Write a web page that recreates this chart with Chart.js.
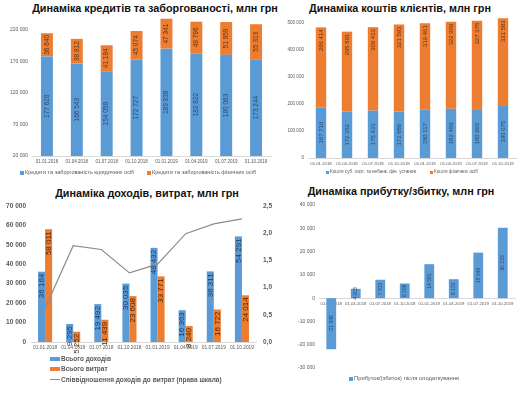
<!DOCTYPE html>
<html lang="uk">
<head>
<meta charset="utf-8">
<script src="https://cdn.jsdelivr.net/npm/chart.js@4.4.1/dist/chart.umd.min.js"></script>
<style>
    body { margin: 0; width: 526px; height: 395px; background: #fff; position: relative; overflow: hidden; font-family: "Liberation Sans", Arial, sans-serif; }
    canvas { position: absolute; }
    .title { position: absolute; font-weight: bold; font-size: 10.8px; line-height: 12px; color: #111; white-space: nowrap; transform: translateX(-50%); }
    .lg { position: absolute; white-space: nowrap; color: #595959; line-height: 1; }
    .sw { position: absolute; }
</style>
</head>
<body>
<div class="title" style="left:155px; top:2px;">Динаміка кредитів та заборгованості, млн грн</div>
<div class="title" style="left:400px; top:2px;">Динаміка коштів клієнтів, млн грн</div>
<div class="title" style="left:147px; top:187px;">Динаміка доходів, витрат, млн грн</div>
<div class="title" style="left:401px; top:185px;">Динаміка прибутку/збитку, млн грн</div>

<canvas id="loansChart" width="276" height="170" style="left:0; top:0;"></canvas>
<canvas id="depositsChart" width="256" height="170" style="left:270px; top:0;"></canvas>
<canvas id="incomeChart" width="280" height="160" style="left:0; top:195px;"></canvas>
<canvas id="profitChart" width="246" height="180" style="left:280px; top:195px;"></canvas>

<!-- legends -->
<div class="sw" style="left:20px; top:171px; width:4px; height:4px; background:#5b9bd5;"></div>
<div class="lg" style="left:25px; top:170px; font-size:5.5px;">Кредити та заборгованість  юридичних осіб</div>
<div class="sw" style="left:147px; top:171px; width:4px; height:4px; background:#ed7d31;"></div>
<div class="lg" style="left:152px; top:170px; font-size:5.5px;">Кредити та заборгованість  фізичних осіб</div>

<div class="sw" style="left:326px; top:171px; width:3px; height:3px; background:#5b9bd5;"></div>
<div class="lg" style="left:330px; top:170px; font-size:4.6px;">Кошти суб. госп. та небанк. фін. установ</div>
<div class="sw" style="left:430px; top:171px; width:3px; height:3px; background:#ed7d31;"></div>
<div class="lg" style="left:434px; top:170px; font-size:4.6px;">Кошти фізичних осіб</div>

<div class="sw" style="left:50px; top:357px; width:10px; height:4px; background:#5b9bd5;"></div>
<div class="lg" style="left:61px; top:355.5px; font-size:6.5px; font-weight:bold;">Всього доходів</div>
<div class="sw" style="left:50px; top:367px; width:10px; height:4px; background:#ed7d31;"></div>
<div class="lg" style="left:61px; top:365.5px; font-size:6.5px; font-weight:bold;">Всього витрат</div>
<div class="sw" style="left:50px; top:379px; width:10px; height:1px; background:#8c8c8c;"></div>
<div class="lg" style="left:61px; top:376.5px; font-size:6.5px; font-weight:bold;">Співвідношення  доходів до витрат (права шкала)</div>

<div class="sw" style="left:349px; top:377px; width:4px; height:4px; background:#5b9bd5;"></div>
<div class="lg" style="left:354px; top:376px; font-size:5.8px;">Прибуток/(збиток)  після оподаткування</div>

<script>
// дати звітності
const dates = ['01.01.2018', '01.04.2018', '01.07.2018', '01.10.2018', '01.01.2019', '01.04.2019', '01.07.2019', '01.10.2019'];

// кредити, млн грн
const loansLegal = [177628, 166543, 154058, 172727, 189938, 182822, 180063, 173244];
const loansPersons = [36640, 38812, 41184, 45074, 47341, 49796, 51959, 55313];

// кошти клієнтів, млн грн
const depositsLegal = [187719, 172352, 175433, 172888, 180117, 182489, 180965, 196075];
const depositsPersons = [296414, 295891, 309413, 321593, 319461, 322909, 327378, 321583];

// доходи / витрати
const incomeTotal = [36164, 9295, 19492, 30035, 48432, 16363, 36311, 54291];
const expenseTotal = [58011, 5252, 11439, 23608, 33771, 8240, 16722, 24014];
const incomeRatio = [0.62, 1.77, 1.70, 1.27, 1.43, 1.99, 2.17, 2.26];

// прибуток
const profit = [-21948, 4003, 7913, 6298, 14581, 8131, 19549, 30233];

// поділки осей
const loansTicks = [20000, 70000, 120000, 170000, 220000];
const depositsTicks = [0, 100000, 200000, 300000, 400000, 500000];
const incomeTicks = [0, 10000, 20000, 30000, 40000, 50000, 60000, 70000];
const ratioTicks = [0, 0.5, 1, 1.5, 2, 2.5];
const profitTicks = [-30000, -20000, -10000, 0, 10000, 20000, 30000, 40000];

const BLUE = '#5b9bd5';
const ORANGE = '#ed7d31';
const AXIS_TEXT = '#595959';
const FONT = '"Liberation Sans", Arial, sans-serif';

function fmt(v) {
    const s = Math.abs(v).toString().replace(/\B(?=(\d{3})+(?!\d))/g, ' ');
    return (v < 0 ? '-' : '') + s;
}

// підписи значень, повернуті на 90°
const barLabels = {
    id: 'barLabels',
    afterDatasetsDraw(chart) {
        const ctx = chart.ctx;
        const area = chart.chartArea;
        chart.data.datasets.forEach((ds, i) => {
            if (!ds.lbl) return;
            const meta = chart.getDatasetMeta(i);
            meta.data.forEach((bar, j) => {
                const text = fmt(ds.data[j]);
                const base = Math.min(Math.max(bar.base, area.top), area.bottom);
                ctx.save();
                ctx.font = `${ds.lbl.weight || 'normal'} ${ds.lbl.size}px ${FONT}`;
                ctx.fillStyle = ds.lbl.color;
                ctx.textBaseline = 'middle';
                if (ds.lbl.pos === 'end') {
                    ctx.translate(bar.x, bar.y + 2);
                    ctx.rotate(-Math.PI / 2);
                    ctx.textAlign = 'right';
                } else {
                    ctx.translate(bar.x, (bar.y + base) / 2);
                    ctx.rotate(-Math.PI / 2);
                    ctx.textAlign = 'center';
                }
                ctx.fillText(text, 0, 0);
                ctx.restore();
            });
        });
    }
};

function fixedTicks(list) {
    return scale => { scale.ticks = list.map(v => ({ value: v })); };
}

function baseOptions(pad, scales) {
    return {
        responsive: false,
        devicePixelRatio: 1,
        animation: false,
        layout: { padding: pad },
        plugins: { legend: { display: false }, title: { display: false }, tooltip: { enabled: false } },
        scales
    };
}

function xAxis(size, height, extra) {
    return Object.assign({
        grid: { display: false, drawTicks: false },
        border: { color: '#d9d9d9' },
        ticks: { font: { size, family: FONT }, color: AXIS_TEXT, padding: 3, maxRotation: 0, autoSkip: false },
        afterFit: s => { s.height = height; }
    }, extra || {});
}

function yAxis(list, min, max, size, width, extra) {
    return Object.assign({
        min, max,
        grid: { display: false, drawTicks: false },
        border: { display: false },
        ticks: { font: { size, family: FONT }, color: AXIS_TEXT, padding: 4, callback: v => fmt(v) },
        afterBuildTicks: fixedTicks(list),
        afterFit: s => { s.width = width; }
    }, extra || {});
}

// 1. кредити
new Chart(document.getElementById('loansChart'), {
    type: 'bar',
    data: {
        labels: dates,
        datasets: [
            { label: 'Кредити та заборгованість  юридичних осіб', data: loansLegal, backgroundColor: BLUE,
              categoryPercentage: 1, barPercentage: 0.4, lbl: { pos: 'center', size: 6.5, color: '#2b4a6e' } },
            { label: 'Кредити та заборгованість  фізичних осіб', data: loansPersons, backgroundColor: ORANGE,
              categoryPercentage: 1, barPercentage: 0.4, lbl: { pos: 'center', size: 6.5, color: '#5a3418' } }
        ]
    },
    options: baseOptions({ left: 2, right: 5, top: 17, bottom: 4 }, {
        x: xAxis(4.5, 10, { stacked: true }),
        y: yAxis(loansTicks, 20000, 240000, 5, 30, { stacked: true })
    }),
    plugins: [barLabels]
});

// 2. кошти клієнтів
new Chart(document.getElementById('depositsChart'), {
    type: 'bar',
    data: {
        labels: dates,
        datasets: [
            { label: 'Кошти суб. госп. та небанк. фін. установ', data: depositsLegal, backgroundColor: BLUE,
              categoryPercentage: 1, barPercentage: 0.4, lbl: { pos: 'center', size: 6, color: '#2b4a6e' } },
            { label: 'Кошти фізичних осіб', data: depositsPersons, backgroundColor: ORANGE,
              categoryPercentage: 1, barPercentage: 0.4, lbl: { pos: 'end', size: 6, color: '#5a3418' } }
        ]
    },
    options: baseOptions({ left: 4, right: 10, top: 15, bottom: 2 }, {
        x: xAxis(4.3, 10, { stacked: true }),
        y: yAxis(depositsTicks, 0, 530000, 4.6, 34, { stacked: true })
    }),
    plugins: [barLabels]
});

// 3. доходи та витрати
new Chart(document.getElementById('incomeChart'), {
    data: {
        labels: dates,
        datasets: [
            { type: 'line', label: 'Співвідношення  доходів до витрат (права шкала)', data: incomeRatio, yAxisID: 'y1',
              borderColor: '#8c8c8c', borderWidth: 1.2, pointRadius: 0, tension: 0, order: 0 },
            { type: 'bar', label: 'Всього доходів', data: incomeTotal, backgroundColor: BLUE, order: 1,
              categoryPercentage: 0.5, barPercentage: 1, lbl: { pos: 'end', size: 8, color: '#1f3a5f' } },
            { type: 'bar', label: 'Всього витрат', data: expenseTotal, backgroundColor: ORANGE, order: 1,
              categoryPercentage: 0.5, barPercentage: 1, lbl: { pos: 'end', size: 8, color: '#4a2a10' } }
        ]
    },
    options: baseOptions({ left: 2, right: 2, top: 10, bottom: 3 }, {
        x: xAxis(4.8, 10),
        y: yAxis(incomeTicks, 0, 70000, 6.5, 29, { ticks: { font: { size: 6.5, weight: 'bold', family: FONT }, color: AXIS_TEXT, padding: 5, callback: v => fmt(v) } }),
        y1: {
            position: 'right', min: 0, max: 2.5,
            grid: { display: false, drawTicks: false },
            border: { display: false },
            ticks: { font: { size: 6.5, weight: 'bold', family: FONT }, color: AXIS_TEXT, padding: 7,
                     callback: v => v.toFixed(1).replace('.', ',') },
            afterBuildTicks: fixedTicks(ratioTicks),
            afterFit: s => { s.width = 22; }
        }
    }),
    plugins: [barLabels]
});

// 4. прибуток / збиток
new Chart(document.getElementById('profitChart'), {
    type: 'bar',
    data: {
        labels: dates,
        datasets: [
            { label: 'Прибуток/(збиток)  після оподаткування', data: profit, backgroundColor: BLUE,
              categoryPercentage: 1, barPercentage: 0.4, lbl: { pos: 'center', size: 5, color: '#2b4a6e' } }
        ]
    },
    options: baseOptions({ left: 4, right: 11, top: 10, bottom: 7 }, {
        x: xAxis(4.3, 10, { position: { y: 0 } }),
        y: yAxis(profitTicks, -30000, 40000, 5, 35)
    }),
    plugins: [barLabels]
});
</script>
</body>
</html>
